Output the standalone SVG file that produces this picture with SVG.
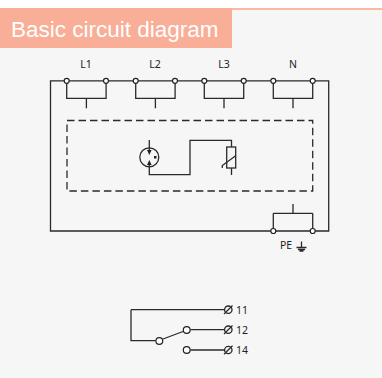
<svg xmlns="http://www.w3.org/2000/svg" width="382" height="378" viewBox="0 0 382 378">
<style>
.w{fill:none;stroke:#2a2a2a;stroke-width:1.3}
.t{fill:#fff;stroke:#222;stroke-width:1.2}
.l{font-family:"Noto Sans","Open Sans",sans-serif;font-size:10.500px;fill:#222}
.m{text-anchor:middle}
</style>
<defs>
<g id="br"><path class="w" d="M0 0V17.500H39.400V0M19.700 17.500V27.500"/></g>
</defs>
<rect width="382" height="378" fill="#fff"/>
<rect y="8" width="382" height="370" fill="#f6f6f6"/>
<rect y="8" width="382" height="2" fill="#f8b9a3"/>
<g id="title"><rect y="8" width="232" height="40" fill="#f8ae97"/>
<text x="11" y="36.500" font-family="Liberation Sans,Arial,sans-serif" font-size="22.500" fill="#fff">Basic circuit diagram</text></g>
<g id="connectors">
<path class="w" d="M66.700 80.800H50.500V231H328.700V80.800H312.700M66.700 80.800H312.700"/>
<path class="w" d="M67 120.500H312.700V191H67Z" stroke-dasharray="7.500 4"/>
<path class="w" d="M149.300 140V152M149.300 163V174.700H190V140.300H231.500V147M231.500 168V175"/>
<path class="w" d="M131 309.700H225M131 309.700V340.700H155.500M163 339L183 331.500M190.500 329.700H225M190.500 350H225"/>
<path class="w" d="M273.300 213.300H312.700M273.300 213.300V231M312.700 213.300V231M293 213.300V204"/>
</g>
<g id="L1"><use href="#br" x="66.700" y="80.800"/><circle class="t" cx="66.700" cy="80.800" r="2.500"/><circle class="t" cx="106" cy="80.800" r="2.500"/><text class="l m" x="86" y="68">L1</text></g>
<g id="L2"><use href="#br" x="135.700" y="80.800"/><circle class="t" cx="135.700" cy="80.800" r="2.500"/><circle class="t" cx="175" cy="80.800" r="2.500"/><text class="l m" x="155" y="68">L2</text></g>
<g id="L3"><use href="#br" x="204.300" y="80.800"/><circle class="t" cx="204.300" cy="80.800" r="2.500"/><circle class="t" cx="243.700" cy="80.800" r="2.500"/><text class="l m" x="224" y="68">L3</text></g>
<g id="N"><use href="#br" x="273.300" y="80.800"/><circle class="t" cx="273.300" cy="80.800" r="2.500"/><circle class="t" cx="312.700" cy="80.800" r="2.500"/><text class="l m" x="293" y="68">N</text></g>
<g id="PE"><circle class="t" cx="273.300" cy="231" r="2.500"/><circle class="t" cx="312.700" cy="231" r="2.500"/><text class="l" x="280" y="249">PE</text>
<path class="w" d="M301.500 241.500V247.500M296.500 247.500H306.500M298 249.500H305M299.500 251H303.500"/></g>
<g id="gas-tube"><circle class="w" cx="149.300" cy="157.300" r="9.500"/>
<path d="M149.300 155L147 150H151.600ZM149.300 160L147 165H151.600Z" fill="#222"/><rect x="154" y="156" width="2.500" height="2.500" fill="#222"/></g>
<g id="varistor"><rect class="w" x="226.700" y="147" width="9" height="21"/><path class="w" d="M222.300 168V165.500L235.700 155.700"/></g>
<g id="relay">
<circle class="t" cx="159.300" cy="341" r="3.400"/><circle class="t" cx="186.700" cy="330" r="3.400"/><circle class="t" cx="186.700" cy="350" r="3.400"/>
<path class="w" d="M224 314L232.500 305.500"/><circle class="w" cx="228.300" cy="309.700" r="3.700"/>
<circle class="w" cx="228.300" cy="329.700" r="3.700"/><path class="w" d="M224 334L232.500 325.500"/>
<circle class="w" cx="228.300" cy="350" r="3.700"/><path class="w" d="M224 354.300L232.500 345.800"/>
<text class="l" x="236" y="313.500">11</text><text class="l" x="236" y="333.500">12</text><text class="l" x="236" y="354">14</text></g>
</svg>
